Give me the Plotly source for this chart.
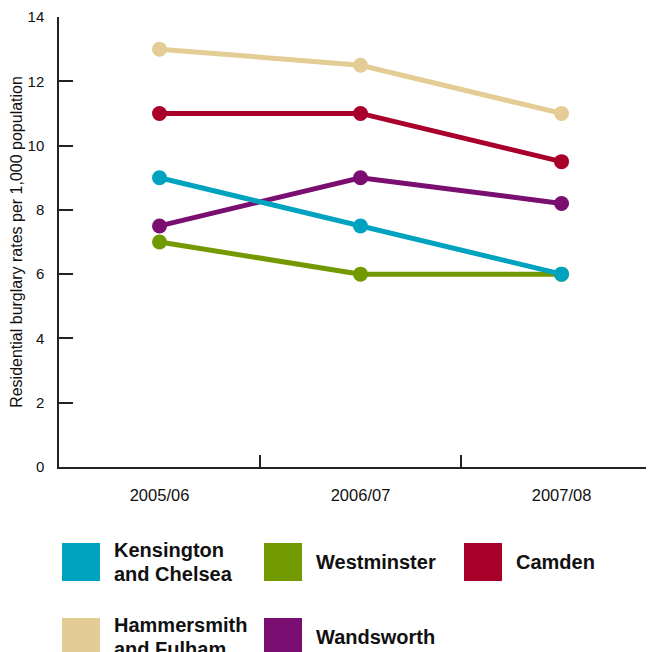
import plotly.graph_objects as go

years = ["2005/06", "2006/07", "2007/08"]
hammersmith = [13, 12.5, 11]
camden = [11, 11, 9.5]
westminster = [7, 6, 6]
wandsworth = [7.5, 9, 8.2]
kensington = [9, 7.5, 6]

series = [
    ("Hammersmith and Fulham", hammersmith, "#E4CD95"),
    ("Camden", camden, "#A8002B"),
    ("Westminster", westminster, "#739900"),
    ("Wandsworth", wandsworth, "#7A0E71"),
    ("Kensington and Chelsea", kensington, "#00A3BF"),
]

# page body has an 8px margin; figure is sized to fill the window
W, H = 646, 644
OFF = 8
L, R, T, B = 59, 654, 17, 467   # plot area in window pixels

fig = go.Figure()
for name, vals, col in series:
    fig.add_trace(go.Scatter(
        x=years, y=vals, mode="lines+markers", name=name,
        line=dict(color=col, width=5),
        marker=dict(color=col, size=15),
        showlegend=False,
    ))

def px(x):
    return (x - L) / (R - L)

def py(y):
    return (B - y) / (B - T)

legend_layout = [
    (["Kensington", "and Chelsea"], "#00A3BF", 62, 543),
    (["Westminster"], "#739900", 264, 543),
    (["Camden"], "#A8002B", 464, 543),
    (["Hammersmith", "and Fulham"], "#E4CD95", 62, 618),
    (["Wandsworth"], "#7A0E71", 264, 618),
]
shapes = []
annotations = []
for lines, col, x0, y0 in legend_layout:
    shapes.append(dict(type="rect", xref="paper", yref="paper",
                       x0=px(x0), x1=px(x0 + 38), y0=py(y0 + 38), y1=py(y0),
                       fillcolor=col, line=dict(width=0), layer="above"))
    n = len(lines)
    for i, line in enumerate(lines):
        cy = y0 + 19 + (i - (n - 1) / 2) * 23.4
        annotations.append(dict(xref="paper", yref="paper", x=px(x0 + 50), y=py(cy),
                                text=line, showarrow=False, xanchor="left", yanchor="middle",
                                align="left",
                                font=dict(family="Liberation Sans, Arial", size=20,
                                          color="#111111", weight="bold")))

fig.update_layout(
    width=W, height=H,
    margin=dict(l=L - OFF, r=W - (R - OFF), t=T - OFF, b=H - (B - OFF), pad=0),
    plot_bgcolor="white", paper_bgcolor="white",
    font=dict(family="Liberation Sans, Arial", size=15, color="#111111"),
    shapes=shapes, annotations=annotations,
    xaxis=dict(type="category", range=[-0.5, 2.46], showgrid=False,
               showline=True, linecolor="#222222", linewidth=1.5,
               ticks="inside", tickson="boundaries", ticklen=12, tickcolor="#222222",
               tickwidth=1.5, zeroline=False,
               tickfont=dict(size=16.5), ticklabelstandoff=12),
    yaxis=dict(range=[0, 14], dtick=2, showgrid=False, showline=True,
               linecolor="#222222", linewidth=1.5, ticks="inside", ticklen=14,
               tickcolor="#222222", tickwidth=1.5, zeroline=False,
               tickfont=dict(size=15), ticklabelstandoff=10,
               title=dict(text="Residential burglary rates per 1,000 population",
                          font=dict(size=16), standoff=6)),
)

fig.write_html("out.html")
